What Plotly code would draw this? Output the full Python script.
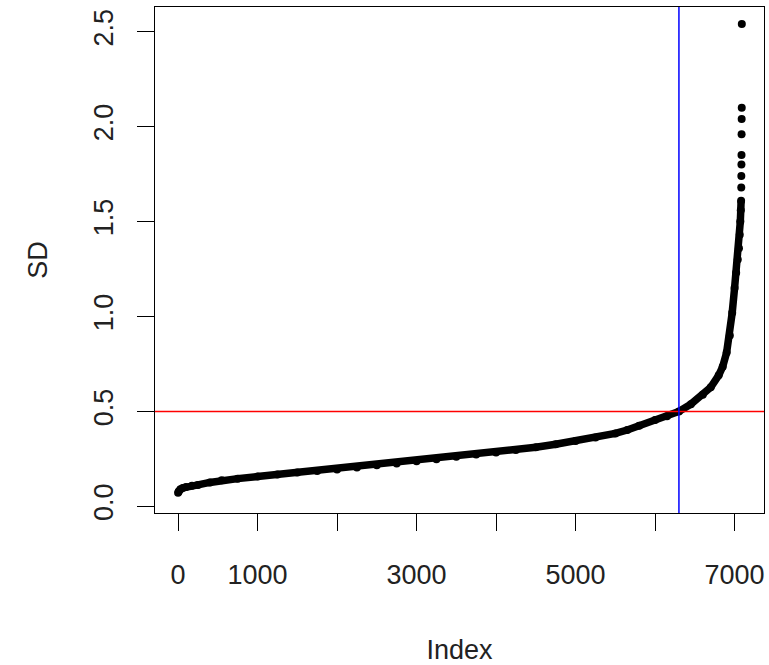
import plotly.graph_objects as go

# Sorted SD values (index -> SD)
body_index = [0, 10, 30, 60, 100, 175, 250, 400, 550, 750, 1000, 1250, 1500, 1750,
              2000, 2250, 2500, 2750, 3000, 3250, 3500, 3750, 4000, 4250, 4500, 4750,
              5000, 5250, 5500, 5650, 5800, 6000, 6150, 6300, 6450, 6600, 6700, 6800, 6850,
              6900, 6940, 6970, 7000, 7020, 7040, 7055, 7065, 7072, 7078, 7082]
body_sd = [0.072, 0.080, 0.090, 0.097, 0.102, 0.108, 0.113, 0.126, 0.137, 0.146,
           0.157, 0.168, 0.178, 0.186, 0.194, 0.205, 0.216, 0.226, 0.237, 0.248,
           0.261, 0.273, 0.283, 0.297, 0.311, 0.327, 0.344, 0.362, 0.384, 0.402,
           0.424, 0.455, 0.475, 0.500, 0.538, 0.588, 0.627, 0.690, 0.735, 0.810,
           0.900, 1.020, 1.150, 1.230, 1.300, 1.360, 1.430, 1.500, 1.560, 1.610]
tail_index = [7084, 7085, 7086, 7087, 7088, 7089, 7090, 7091]
tail_sd = [1.680, 1.740, 1.800, 1.850, 1.960, 2.040, 2.100, 2.540]

sd_cutoff = 0.5
index_cutoff = 6300

x_ticks = [0, 1000, 2000, 3000, 4000, 5000, 6000, 7000]
x_ticktext = ["0", "1000", "", "3000", "", "5000", "", "7000"]
y_ticks = [0.0, 0.5, 1.0, 1.5, 2.0, 2.5]
y_ticktext = ["0.0", "0.5", "1.0", "1.5", "2.0", "2.5"]

FONT = "Liberation Sans, Arial, sans-serif"

fig = go.Figure()
fig.add_trace(go.Scatter(
    x=body_index, y=body_sd, mode="lines+markers",
    line=dict(color="black", width=7.5),
    marker=dict(color="black", size=8),
    showlegend=False, hoverinfo="skip"))
fig.add_trace(go.Scatter(
    x=tail_index, y=tail_sd, mode="markers",
    marker=dict(color="black", size=8),
    showlegend=False, hoverinfo="skip"))

fig.add_hline(y=sd_cutoff, line=dict(color="red", width=1.5))
fig.add_vline(x=index_cutoff, line=dict(color="blue", width=1.5))

fig.update_layout(
    width=769, height=665,
    margin=dict(l=155, r=5, t=7, b=152),
    paper_bgcolor="white", plot_bgcolor="white",
    font=dict(family=FONT, size=27, color="#222"),
    xaxis=dict(
        range=[-290, 7370], showgrid=False, zeroline=False, automargin=False,
        showline=True, linecolor="black", linewidth=1, mirror=True,
        tickmode="array", tickvals=x_ticks, ticktext=x_ticktext,
        ticks="outside", ticklen=17, tickcolor="black", tickwidth=1,
        ticklabelstandoff=21,
        title=dict(text="Index", standoff=50, font=dict(size=27)),
    ),
    yaxis=dict(
        range=[-0.035, 2.63], showgrid=False, zeroline=False, automargin=False,
        showline=True, linecolor="black", linewidth=1, mirror=True,
        tickmode="array", tickvals=y_ticks, ticktext=y_ticktext,
        ticks="outside", ticklen=17, tickcolor="black", tickwidth=1,
        tickangle=-90, ticklabelstandoff=13,
        title=dict(text="SD", standoff=33, font=dict(size=27)),
    ),
)

fig.write_html("out.html",
               config={"displayModeBar": False},
               post_script="document.body.style.margin='0';document.body.style.overflow='hidden';")
